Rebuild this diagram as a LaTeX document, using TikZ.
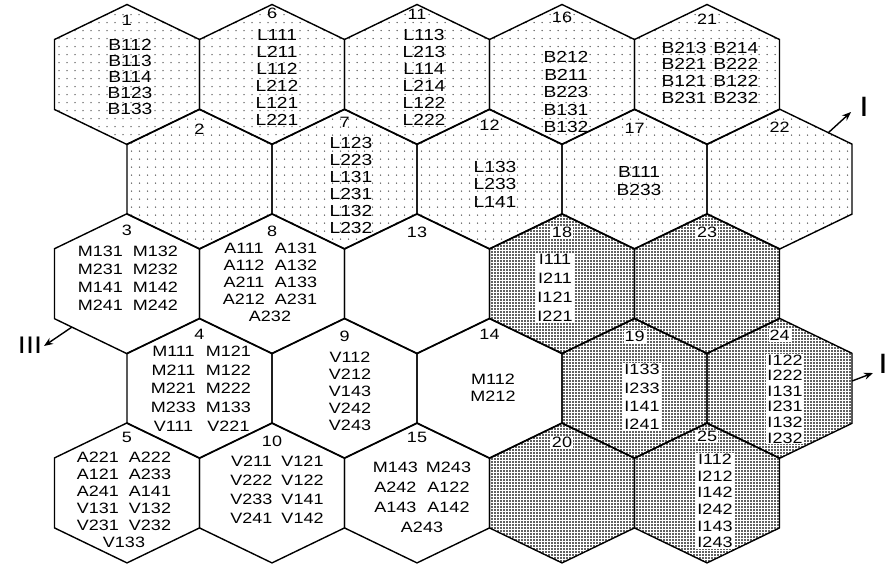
\documentclass[tikz,border=0pt]{standalone}
\usepackage{fontspec}
\setmainfont{Liberation Sans}
\newfontfamily\hexfont[FakeStretch=1.2]{Liberation Sans}
\usepackage{tikz}
\usetikzlibrary{arrows.meta, backgrounds}

% hexagon outline and clip, in cell coordinates
\newcommand\hexclip{\clip (0,-70) -- (72.5,-35) -- (72.5,35) -- (0,70)
  -- (-72.5,35) -- (-72.5,-35) -- cycle;}
\newcommand\hexoutline{\draw[line width=1.4pt, line join=miter] (0,-70) -- (72.5,-35)
  -- (72.5,35) -- (0,70) -- (-72.5,35) -- (-72.5,-35) -- cycle;
  \coordinate (-c) at (0,0);}

\tikzset{
  plainhex/.pic={\hexoutline},
  dothex/.pic={
    \begin{pgfonlayer}{background}
      \begin{scope}
        \hexclip
        \foreach \i in {-9,...,9}
          \foreach \j in {-9,...,9}
            \fill[black!65] (8*\i+4,8*\j+4) circle (.75pt);
      \end{scope}
    \end{pgfonlayer}
    \hexoutline},
  gridhex/.pic={
    \begin{pgfonlayer}{background}
      \begin{scope}
        \hexclip
        \fill[black!62] (-80,-80) rectangle (80,80);
        \draw[white, line width=.75pt, step=3pt] (-80,-80) grid (80,80);
      \end{scope}
    \end{pgfonlayer}
    \hexoutline}
}

\begin{document}
\begin{tikzpicture}[x=1pt, y=-1pt,
    txt/.style={font=\hexfont\fontsize{15}{#1}\selectfont, align=center, inner sep=1pt},
    txt/.default=17,
    btxt/.style={txt, font=\hexfont\fontsize{16}{#1}\selectfont},
    btxt/.default=17,
    tag/.style={fill=white, inner sep=1pt},
    num/.style={font=\hexfont\fontsize{15}{17}\selectfont, inner sep=1pt},
    dirlab/.style={font=\hexfont\fontsize{28}{28}\selectfont, inner sep=0pt},
    arr/.style={-{Stealth[length=9pt, width=7pt]}, line width=1.4pt}
  ]
  \useasboundingbox (0,0) rectangle (890,566);

  % column 1
  \pic (h1) at (127,74.5)    {dothex};
  \pic (h2) at (199.5,179.1) {dothex};
  \pic (h3) at (127,283.7)   {plainhex};
  \pic (h4) at (199.5,388.3) {plainhex};
  \pic (h5) at (127,492.9)   {plainhex};
  % column 2
  \pic (h6)  at (272,74.5)    {dothex};
  \pic (h7)  at (344.5,179.1) {dothex};
  \pic (h8)  at (272,283.7)   {plainhex};
  \pic (h9)  at (344.5,388.3) {plainhex};
  \pic (h10) at (272,492.9)   {plainhex};
  % column 3
  \pic (h11) at (417,74.5)    {dothex};
  \pic (h12) at (489.5,179.1) {dothex};
  \pic (h13) at (417,283.7)   {plainhex};
  \pic (h14) at (489.5,388.3) {plainhex};
  \pic (h15) at (417,492.9)   {plainhex};
  % column 4
  \pic (h16) at (562,74.5)    {dothex};
  \pic (h17) at (634.5,179.1) {dothex};
  \pic (h18) at (562,283.7)   {gridhex};
  \pic (h19) at (634.5,388.3) {gridhex};
  \pic (h20) at (562,492.9)   {gridhex};
  % column 5
  \pic (h21) at (707,74.5)    {dothex};
  \pic (h22) at (779.5,179.1) {dothex};
  \pic (h23) at (707,283.7)   {gridhex};
  \pic (h24) at (779.5,388.3) {gridhex};
  \pic (h25) at (707,492.9)   {gridhex};

  % cell numbers
  \node[num] (n1)  at ([yshift=54pt]h1-c)  {1};
  \node[num] (n2)  at ([yshift=50pt]h2-c)  {2};
  \node[num] (n3)  at ([yshift=53pt]h3-c)  {3};
  \node[num] (n4)  at ([yshift=54pt]h4-c)  {4};
  \node[num] (n5)  at ([yshift=55pt]h5-c)  {5};
  \node[num] (n6)  at ([yshift=61pt]h6-c)  {6};
  \node[num] (n7)  at ([yshift=57pt]h7-c)  {7};
  \node[num] (n8)  at ([yshift=52pt]h8-c)  {8};
  \node[num] (n9)  at ([yshift=52pt]h9-c)  {9};
  \node[num] (n10) at ([yshift=52pt]h10-c) {10};
  \node[num] (n11) at ([yshift=60pt]h11-c) {11};
  \node[num] (n12) at ([yshift=54pt]h12-c) {12};
  \node[num] (n13) at ([yshift=51pt]h13-c) {13};
  \node[num] (n14) at ([yshift=54pt]h14-c) {14};
  \node[num] (n15) at ([yshift=55pt]h15-c) {15};
  \node[num] (n16) at ([yshift=57pt]h16-c) {16};
  \node[num] (n17) at ([yshift=51pt]h17-c) {17};
  \node[num, tag] (n18) at ([yshift=51pt]h18-c) {18};
  \node[num, tag] (n19) at ([yshift=52pt]h19-c) {19};
  \node[num, tag] (n20) at ([yshift=51pt]h20-c) {20};
  \node[num] (n21) at ([yshift=55pt]h21-c) {21};
  \node[num] (n22) at ([yshift=52pt]h22-c) {22};
  \node[num, tag] (n23) at ([yshift=51pt]h23-c) {23};
  \node[num, tag] (n24) at ([yshift=53pt]h24-c) {24};
  \node[num, tag] (n25) at ([yshift=57pt]h25-c) {25};

  % top rows (B, L)
  \node[btxt=16]   (t1)  at (130,77)  {B112\\B113\\B114\\B123\\B133};
  \node[btxt]      (t6)  at (277,77)  {L111\\L211\\L112\\L212\\L121\\L221};
  \node[btxt]      (t11) at (424,77)  {L113\\L213\\L114\\L214\\L122\\L222};
  \node[btxt=17.5] (t16) at (566,92)  {B212\\B211\\B223\\B131\\B132};
  \node[btxt=16.7] (t21) at (710,75)  {\begin{tabular}{@{}c@{\hspace{7pt}}c@{}}
      B213 & B214\\ B221 & B222\\ B121 & B122\\ B231 & B232\end{tabular}};
  \node[btxt]      (t7)  at (351,185) {L123\\L223\\L131\\L231\\L132\\L232};
  \node[btxt=17.5] (t12) at (495,184) {L133\\L233\\L141};
  \node[btxt=18]   (t17) at (639,181) {B111\\B233};

  % middle rows (M, A, V)
  \node[txt=17.7] (t3)  at (128,280) {\begin{tabular}{@{}c@{\hspace{10pt}}c@{}}
      M131 & M132\\ M231 & M232\\ M141 & M142\\ M241 & M242\end{tabular}};
  \node[txt]      (t8)  at (270,284) {\begin{tabular}{@{}c@{\hspace{10pt}}c@{}}
      A111 & A131\\ A112 & A132\\ A211 & A133\\ A212 & A231\\
      \multicolumn{2}{c}{A232}\end{tabular}};
  \node[txt=18.7] (t4)  at (201,390) {\begin{tabular}{@{}c@{\hspace{10pt}}c@{}}
      M111 & M121\\ M211 & M122\\ M221 & M222\\ M233 & M133\\ V111 & V221\end{tabular}};
  \node[txt]      (t9)  at (350,391) {V112\\V212\\V143\\V242\\V243};
  \node[txt]      (t14) at (493,388) {M112\\M212};
  \node[txt]      (t5)  at (124,502) {\begin{tabular}{@{}c@{\hspace{10pt}}c@{}}
      A221 & A222\\ A121 & A233\\ A241 & A141\\ V131 & V132\\ V231 & V232\\
      \multicolumn{2}{c}{V133}\end{tabular}};
  \node[txt=19]   (t10) at (277,491) {\begin{tabular}{@{}c@{\hspace{9pt}}c@{}}
      V211 & V121\\ V222 & V122\\ V233 & V141\\ V241 & V142\end{tabular}};
  \node[txt=20]   (t15) at (422,498) {\begin{tabular}{@{}c@{\hspace{8pt}}c@{}}
      M143 & M243\\ A242 & A122\\ A143 & A142\\ \multicolumn{2}{c}{A243}\end{tabular}};

  % shaded cells (I)
  \node[txt=19, tag]   (t18) at (555,288) {I111\\I211\\I121\\I221};
  \node[txt=18.3, tag] (t19) at (642,397) {I133\\I233\\I141\\I241};
  \node[txt=15.6, tag] (t24) at (785,399) {I122\\I222\\I131\\I231\\I132\\I232};
  \node[txt=16.6, tag] (t25) at (715,501) {I112\\I212\\I142\\I242\\I143\\I243};

  % outflow arrows
  \node[dirlab] (dirI)   at (864,107) {I};
  \node[dirlab] (dirII)  at (883,364) {I};
  \node[dirlab, font=\hexfont\fontsize{24}{24}\selectfont] (dirIII) at (30,345) {III};
  \coordinate (o22) at (828,133);
  \coordinate (e22) at (851,112);
  \coordinate (o24) at (852,381);
  \coordinate (e24) at (873,373);
  \coordinate (o3)  at (72,327);
  \coordinate (e3)  at (44,346);
  \draw[arr] (o22) -- (e22);
  \draw[arr] (o24) -- (e24);
  \draw[arr] (o3)  -- (e3);
\end{tikzpicture}
\end{document}
